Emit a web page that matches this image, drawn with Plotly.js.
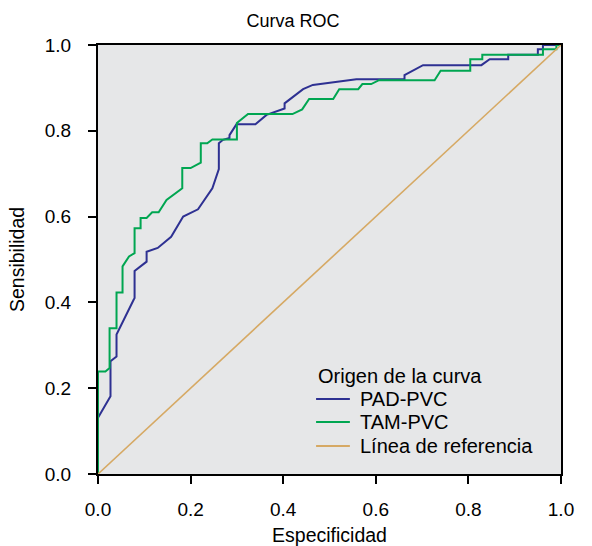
<!DOCTYPE html>
<html>
<head>
<meta charset="utf-8">
<script src="https://cdn.plot.ly/plotly-3.0.1.min.js"></script>
<style>html,body{margin:0;padding:0;background:#fff;}#chart{width:592px;height:546px;}</style>
</head>
<body>
<div id="chart"></div>
<script>
// PAD-PVC ROC curve (1 - especificidad, sensibilidad)
const padX = [0, 0, 0.027, 0.027, 0.040, 0.040, 0.077, 0.079, 0.079, 0.105, 0.105, 0.129, 0.158, 0.184, 0.216, 0.247, 0.261, 0.261, 0.270, 0.284, 0.284, 0.299, 0.340, 0.364, 0.403, 0.403, 0.443, 0.464, 0.558, 0.662, 0.662, 0.702, 0.828, 0.846, 0.886, 0.886, 0.950, 0.950, 0.961, 0.961, 1];
const padY = [0, 0.131, 0.181, 0.263, 0.274, 0.325, 0.406, 0.410, 0.473, 0.495, 0.518, 0.527, 0.553, 0.600, 0.617, 0.666, 0.711, 0.771, 0.779, 0.783, 0.790, 0.815, 0.815, 0.837, 0.852, 0.864, 0.897, 0.907, 0.920, 0.920, 0.930, 0.953, 0.953, 0.967, 0.967, 0.977, 0.977, 0.990, 0.990, 1.0, 1];
// TAM-PVC ROC curve
const tamX = [0, 0, 0.016, 0.025, 0.025, 0.040, 0.040, 0.053, 0.053, 0.067, 0.079, 0.079, 0.092, 0.092, 0.105, 0.117, 0.131, 0.148, 0.182, 0.182, 0.200, 0.222, 0.222, 0.236, 0.247, 0.300, 0.300, 0.324, 0.420, 0.441, 0.456, 0.508, 0.521, 0.562, 0.571, 0.590, 0.607, 0.727, 0.740, 0.804, 0.804, 0.830, 0.830, 0.961, 0.961, 0.990, 0.990, 1];
const tamY = [0, 0.239, 0.239, 0.247, 0.340, 0.340, 0.423, 0.423, 0.484, 0.507, 0.515, 0.573, 0.573, 0.597, 0.597, 0.610, 0.610, 0.639, 0.666, 0.713, 0.713, 0.726, 0.771, 0.771, 0.780, 0.780, 0.818, 0.839, 0.839, 0.850, 0.874, 0.874, 0.897, 0.897, 0.909, 0.909, 0.918, 0.918, 0.940, 0.940, 0.967, 0.967, 0.977, 0.977, 0.990, 0.990, 1.0, 1];
// Reference line
const refX = [0, 1];
const refY = [0, 1];
const tickVals = [0, 0.2, 0.4, 0.6, 0.8, 1.0];
const tickText = ["0.0", "0.2", "0.4", "0.6", "0.8", "1.0"];
const seriesNames = ["PAD-PVC", "TAM-PVC", "Línea de referencia"];
const seriesColors = ["#2E3192", "#00A651", "#D6A964"];
const legendTitle = "Origen de la curva";

const FONT = "Liberation Sans, Arial, Helvetica, sans-serif";

const traces = [
  {x: padX, y: padY, type: "scatter", mode: "lines", name: seriesNames[0],
   line: {color: seriesColors[0], width: 2}},
  {x: tamX, y: tamY, type: "scatter", mode: "lines", name: seriesNames[1],
   line: {color: seriesColors[1], width: 2}},
  {x: refX, y: refY, type: "scatter", mode: "lines", name: seriesNames[2],
   line: {color: seriesColors[2], width: 1.6}}
];

const axisCommon = {
  range: [0, 1],
  tickvals: tickVals,
  ticktext: tickText,
  ticks: "outside",
  ticklen: 8,
  tickwidth: 2,
  tickcolor: "#000",
  showline: true,
  linecolor: "#000",
  linewidth: 2,
  mirror: true,
  showgrid: false,
  zeroline: false,
  fixedrange: true,
  tickfont: {family: FONT, size: 19, color: "#000"}
};

// Legend drawn as annotations + line samples (paper coordinates)
const legX0 = 0.471, legX1 = 0.544, legTextX = 0.562;
const legTitleY = 0.228;
const legItemY = [0.175, 0.121, 0.065];
const annotations = [{
  xref: "paper", yref: "paper", x: legX0, y: legTitleY, xanchor: "left", yanchor: "middle",
  text: legendTitle, showarrow: false, font: {family: FONT, size: 20, color: "#000"}
}];
const shapes = [];
seriesNames.forEach((nm, i) => {
  annotations.push({
    xref: "paper", yref: "paper", x: legTextX, y: legItemY[i], xanchor: "left", yanchor: "middle",
    text: nm, showarrow: false, font: {family: FONT, size: 20, color: "#000"}
  });
  shapes.push({
    type: "line", xref: "paper", yref: "paper", x0: legX0, x1: legX1, y0: legItemY[i], y1: legItemY[i],
    line: {color: seriesColors[i], width: 2}
  });
});

const layout = {
  width: 592,
  height: 546,
  margin: {l: 98, r: 31, t: 45, b: 72},
  paper_bgcolor: "#ffffff",
  plot_bgcolor: "#E6E7E8",
  font: {family: FONT, color: "#000"},
  title: {text: "Curva ROC", font: {family: FONT, size: 18, color: "#000"},
          x: 0.495, xanchor: "center", xref: "container", y: 0.963, yanchor: "middle"},
  xaxis: Object.assign({}, axisCommon, {
    ticklabelstandoff: 9,
    title: {text: "Especificidad", font: {family: FONT, size: 19.5, color: "#000"}, standoff: 10}
  }),
  yaxis: Object.assign({}, axisCommon, {
    ticklabelstandoff: 13,
    title: {text: "Sensibilidad", font: {family: FONT, size: 19.5, color: "#000"}, standoff: 15}
  }),
  showlegend: false,
  annotations: annotations,
  shapes: shapes
};

Plotly.newPlot("chart", traces, layout, {displayModeBar: false, staticPlot: true});
</script>
</body>
</html>
